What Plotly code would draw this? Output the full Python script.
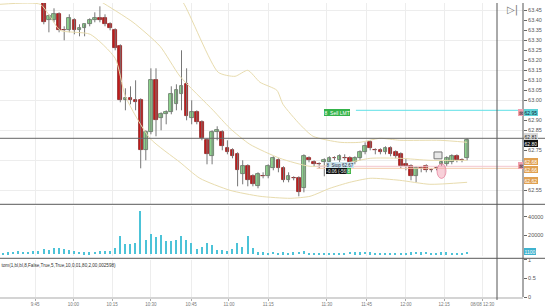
import plotly.graph_objects as go

# ---------------- data ----------------
idx = list(range(92))
opens = [63.60, 63.58, 63.60, 63.57, 63.59, 63.58, 63.60, 63.59, 63.58, 63.40,
         63.40, 63.43, 63.35, 63.35, 63.40, 63.35, 63.36, 63.38, 63.40, 63.41,
         63.41, 63.38, 63.35, 63.27, 63.00, 63.01, 63.00, 63.00, 62.75, 62.84,
         63.10, 62.91, 62.93, 62.94, 62.98, 63.03, 63.08, 62.91, 62.94, 62.89,
         62.80, 62.72, 62.84, 62.84, 62.76, 62.75, 62.73, 62.63, 62.67, 62.62,
         62.57, 62.62, 62.62, 62.66, 62.70, 62.66, 62.60, 62.61, 62.61, 62.56,
         62.71, 62.69, 62.68, 62.69, 62.69, 62.71, 62.70, 62.71, 62.71, 62.69,
         62.71, 62.74, 62.79, 62.75, 62.75, 62.74, 62.76, 62.74, 62.73, 62.68,
         62.67, 62.62, 62.66, 62.67, 62.65, 62.66, 62.68, 62.68, 62.69, 62.72,
         62.70, 62.71]
highs = [63.63, 63.61, 63.62, 63.60, 63.62, 63.61, 63.63, 63.62, 63.60, 63.43,
         63.46, 63.44, 63.37, 63.43, 63.41, 63.38, 63.38, 63.41, 63.44, 63.47,
         63.43, 63.39, 63.36, 63.28, 63.06, 63.07, 63.10, 63.01, 62.85, 63.16,
         63.16, 62.94, 62.95, 63.07, 63.08, 63.25, 63.16, 63.00, 62.95, 62.90,
         62.81, 62.85, 62.87, 62.85, 62.80, 62.76, 62.74, 62.70, 62.68, 62.63,
         62.64, 62.64, 62.68, 62.72, 62.71, 62.67, 62.64, 62.62, 62.62, 62.73,
         62.72, 62.70, 62.69, 62.71, 62.72, 62.72, 62.73, 62.73, 62.72, 62.72,
         62.75, 62.79, 62.80, 62.76, 62.76, 62.77, 62.77, 62.75, 62.74, 62.71,
         62.68, 62.67, 62.67, 62.68, 62.66, 62.67, 62.70, 62.72, 62.73, 62.73,
         62.71, 62.81]
lows = [63.57, 63.55, 63.56, 63.54, 63.56, 63.55, 63.57, 63.56, 63.38, 63.34,
        63.39, 63.34, 63.30, 63.34, 63.33, 63.32, 63.32, 63.37, 63.39, 63.39,
        63.37, 63.35, 63.25, 62.99, 62.95, 62.98, 62.95, 62.66, 62.70, 62.83,
        62.82, 62.85, 62.88, 62.93, 62.95, 62.95, 62.90, 62.88, 62.88, 62.80,
        62.68, 62.68, 62.80, 62.75, 62.73, 62.71, 62.57, 62.58, 62.57, 62.57,
        62.56, 62.61, 62.61, 62.65, 62.64, 62.59, 62.59, 62.60, 62.52, 62.54,
        62.69, 62.67, 62.66, 62.62, 62.68, 62.70, 62.69, 62.70, 62.68, 62.68,
        62.70, 62.73, 62.75, 62.73, 62.73, 62.73, 62.72, 62.71, 62.66, 62.65,
        62.60, 62.59, 62.64, 62.64, 62.64, 62.65, 62.67, 62.67, 62.68, 62.69,
        62.69, 62.70]
closes = [63.58, 63.60, 63.57, 63.59, 63.58, 63.60, 63.59, 63.58, 63.39, 63.42,
          63.43, 63.35, 63.35, 63.41, 63.35, 63.36, 63.38, 63.40, 63.41, 63.40,
          63.38, 63.36, 63.26, 63.00, 63.01, 63.00, 62.99, 62.75, 62.84, 63.10,
          62.90, 62.93, 62.94, 63.03, 63.05, 63.07, 62.92, 62.94, 62.89, 62.81,
          62.73, 62.84, 62.85, 62.77, 62.74, 62.72, 62.65, 62.67, 62.60, 62.58,
          62.63, 62.62, 62.67, 62.71, 62.66, 62.60, 62.62, 62.61, 62.54, 62.72,
          62.70, 62.68, 62.68, 62.70, 62.71, 62.71, 62.72, 62.71, 62.69, 62.71,
          62.74, 62.77, 62.76, 62.75, 62.74, 62.76, 62.73, 62.72, 62.67, 62.67,
          62.62, 62.66, 62.66, 62.65, 62.65, 62.66, 62.69, 62.71, 62.72, 62.70,
          62.70, 62.80]
volumes = [1500, 2000, 2200, 3000, 2500, 2500, 3500, 3000, 5000, 4000,
           6000, 6000, 5000, 4500, 3500, 2500, 2000, 2000, 2500, 3000,
           3000, 3500, 6300, 19600, 10500, 10500, 11500, 46000, 15000, 22000,
           18500, 20000, 14000, 14000, 15000, 19000, 15000, 11500, 5300, 8000,
           11500, 9800, 4500, 4500, 3500, 5300, 11500, 8000, 19600, 6300,
           2100, 1800, 1500, 2500, 1200, 2000, 1000, 1800, 2500, 3000,
           1500, 1200, 1000, 800, 1500, 1000, 1200, 1000, 2200, 1800,
           2000, 2400, 2000, 1500, 1000, 800, 1200, 1000, 1500, 1200,
           2000, 2200, 1800, 2500, 1200, 1500, 2000, 1800, 1500, 1200,
           1000, 2500]

# Bollinger-style envelope (bar index, price)
upper_x = [33, 35.3, 42.2, 45.5, 48, 50.4, 53.7, 54.9, 58.2, 60.8, 66.1, 70, 73.9, 77.8, 85.7, 91]
upper_y = [63.55, 63.49, 63.14, 63.12, 63.15, 63.09, 63.05, 62.98, 62.88, 62.82, 62.79, 62.79, 62.81, 62.80, 62.80, 62.79]
mid_x = [18, 19.4, 25.5, 30.8, 34.7, 41.2, 44.5, 48.4, 54.3, 60.2, 66.1, 72, 77.8, 83.7, 91]
mid_y = [63.51, 63.49, 63.39, 63.27, 63.12, 62.95, 62.86, 62.78, 62.71, 62.67, 62.68, 62.71, 62.71, 62.70, 62.70]
lower_x = [-0.6, 7.3, 9.2, 11.2, 17.1, 22, 24, 28.8, 34.7, 38.6, 44.5, 50.4, 56.3, 60.2, 64.1, 68, 72, 77.8, 83.7, 91]
lower_y = [63.48, 63.48, 63.42, 63.35, 63.33, 63.21, 63.02, 62.81, 62.69, 62.61, 62.55, 62.52, 62.51, 62.52, 62.56, 62.59, 62.61, 62.60, 62.58, 62.59]

price_ticks = [63.45, 63.40, 63.35, 63.30, 63.25, 63.20, 63.15, 63.10, 63.05, 63.00,
               62.90, 62.85, 62.75, 62.55]
time_tickvals = [6.3, 13.8, 21.4, 29.0, 36.9, 44.3, 52.0, 63.5, 71.3, 79.0, 86.5, 94.0]
time_ticktext = ["9:45", "10:00", "10:15", "10:30", "10:45", "11:00", "11:15",
                 "11:30", "11:45", "12:00", "12:15", "08/08 12:30"]

limit_price = 62.95
cross_price = 62.81
stop_price_a = 62.67
stop_price_b = 62.66

# ---------------- figure ----------------
W, H = 545, 307
ML, MR, MT, MB = 0, 22, 0, 7
PW = W - ML - MR
PH = H - MT - MB
X0 = -3 / 5.1
X1 = (PW - 3) / 5.1


def px_x(p):
    return p / PW


def px_y(p):
    return (PH - p) / PH


FONT = "Liberation Sans, Arial, sans-serif"
TAN = "#e8dcae"
UP_FILL, UP_EDGE = "#8fdc8f", "#5f6f5f"
DN_FILL, DN_EDGE = "#c41a1a", "#8c2020"

fig = go.Figure()

# wicks
wx, wy = [], []
for i, h, l in zip(idx, highs, lows):
    wx += [i, i, None]
    wy += [l, h, None]
fig.add_trace(go.Scatter(x=wx, y=wy, mode="lines", line=dict(color="#777777", width=1),
                         xaxis="x", yaxis="y", showlegend=False, hoverinfo="skip"))

# bodies
body_base = [min(o, c) for o, c in zip(opens, closes)]
body_len = [max(abs(c - o), 0.004) for o, c in zip(opens, closes)]
body_fill = [UP_FILL if c > o else DN_FILL for o, c in zip(opens, closes)]
body_edge = [UP_EDGE if c > o else DN_EDGE for o, c in zip(opens, closes)]
fig.add_trace(go.Bar(x=idx, y=body_len, base=body_base, width=0.72, xaxis="x", yaxis="y",
                     marker=dict(color=body_fill, line=dict(color=body_edge, width=0.8)),
                     showlegend=False, hoverinfo="skip"))

for bx, by in [(upper_x, upper_y), (mid_x, mid_y), (lower_x, lower_y)]:
    fig.add_trace(go.Scatter(x=bx, y=by, mode="lines",
                             line=dict(color=TAN, width=1, shape="spline", smoothing=0.6),
                             xaxis="x", yaxis="y", showlegend=False, hoverinfo="skip"))

# order / level lines
fig.add_trace(go.Scatter(x=[69.2, X1], y=[limit_price, limit_price], mode="lines",
                         line=dict(color="#5fe0e6", width=1), xaxis="x", yaxis="y",
                         showlegend=False, hoverinfo="skip"))
fig.add_trace(go.Scatter(x=[61.5, X1], y=[stop_price_a, stop_price_a], mode="lines",
                         line=dict(color="#f3c6cf", width=1), xaxis="x", yaxis="y",
                         showlegend=False, hoverinfo="skip"))
fig.add_trace(go.Scatter(x=[61.5, X1], y=[stop_price_b, stop_price_b], mode="lines",
                         line=dict(color="#f2c9a8", width=1), xaxis="x", yaxis="y",
                         showlegend=False, hoverinfo="skip"))

# grid helper axis
fig.add_trace(go.Scatter(x=[X0], y=[63.0], mode="markers", marker=dict(opacity=0),
                         xaxis="x", yaxis="y4", showlegend=False, hoverinfo="skip"))

fig.add_trace(go.Bar(x=idx, y=volumes, xaxis="x", yaxis="y2",
                     marker=dict(color="#4cc3d8", line=dict(width=0)),
                     width=0.3, showlegend=False, hoverinfo="skip"))

fig.add_trace(go.Scatter(x=[X0], y=[0.5], mode="markers", marker=dict(opacity=0),
                         xaxis="x", yaxis="y3", showlegend=False, hoverinfo="skip"))

price_range = [63.4865 - 205 * 0.0049, 63.4865]
price_dom = [px_y(205), 1.0]
vol_dom = [px_y(258), px_y(207)]
ind_dom = [0.0, px_y(262)]

axis_common = dict(side="right", ticks="outside", ticklen=3, tickcolor="#666",
                   tickfont=dict(size=5.5, color="#555", family=FONT),
                   showline=False, zeroline=False, anchor="x")

fig.update_layout(
    width=W, height=H,
    margin=dict(l=ML, r=MR, t=MT, b=MB),
    paper_bgcolor="white", plot_bgcolor="white",
    barmode="overlay", bargap=0, showlegend=False,
    xaxis=dict(domain=[0, 1], range=[X0, X1], anchor="y3",
               tickvals=time_tickvals, ticktext=time_ticktext, tickangle=0,
               tickfont=dict(size=4.5, color="#777", family=FONT),
               ticks="outside", ticklen=2, tickcolor="#aaa",
               showgrid=True, gridcolor="#ededed", gridwidth=1,
               showline=True, linecolor="#d4d4d4", linewidth=2, zeroline=False),
    yaxis=dict(domain=price_dom, range=price_range, tickvals=price_ticks,
               ticktext=["%.2f" % v for v in price_ticks], showgrid=False, **axis_common),
    yaxis4=dict(overlaying="y", range=price_range, side="right", tickmode="linear",
                tick0=63.45, dtick=0.15, showgrid=True, gridcolor="#ededed",
                showticklabels=False, ticks="", zeroline=False, anchor="x"),
    yaxis2=dict(domain=vol_dom, range=[-2100, 51600], tickvals=[20000, 40000],
                ticktext=["20000", "40000"], showgrid=False, **axis_common),
    yaxis3=dict(domain=ind_dom, range=[0, 1], tickvals=[0, 0.5, 1], ticktext=["0", "0.5", "1"],
                showgrid=False, **axis_common),
)

shapes = []
# panel separators
for yy in (205.5, 260.5):
    shapes.append(dict(type="line", xref="paper", yref="paper", x0=0, x1=W / PW, y0=px_y(yy), y1=px_y(yy),
                       line=dict(color="#7a7a7a", width=1.2)))
# price axis spine
shapes.append(dict(type="line", xref="paper", yref="paper", x0=1, x1=1, y0=px_y(300), y1=1,
                   line=dict(color="#555", width=1)))
# crosshair
shapes.append(dict(type="line", xref="paper", yref="paper", x0=px_x(497), x1=px_x(497), y0=px_y(303), y1=1,
                   line=dict(color="#555", width=1)))
shapes.append(dict(type="line", xref="paper", yref="y", x0=0, x1=W / PW, y0=cross_price, y1=cross_price,
                   line=dict(color="#666", width=1)))
# pink highlight ellipse & small box
shapes.append(dict(type="circle", xref="paper", yref="paper", x0=px_x(437), x1=px_x(446), y0=px_y(179), y1=px_y(164),
                   fillcolor="rgba(240,150,170,0.45)", line=dict(color="rgba(230,120,150,0.7)", width=1)))
shapes.append(dict(type="rect", xref="paper", yref="paper", x0=px_x(434), x1=px_x(442), y0=px_y(159), y1=px_y(152),
                   fillcolor="#e8e8e8", line=dict(color="#777", width=1)))
fig.update_layout(shapes=shapes)

ann = []


def label(xp, yp, text, bg, fg="#222", size=5, xanchor="left"):
    ann.append(dict(xref="paper", yref="paper", x=px_x(xp), y=px_y(yp), text=text, showarrow=False,
                    xanchor=xanchor, yanchor="middle", bgcolor=bg, borderwidth=0,
                    borderpad=0.5, font=dict(size=size, color=fg, family=FONT)))


label(324, 111.5, "8  Sell LMT", "#34b34a", "white", 5)
label(326, 165.5, "8  Stop 62.67", "#cfe6ee", "#224", 4.5)
label(326, 171.0, "-0.06 (-56)", "#111", "#eee", 4.5)
label(347, 171.0, "8", "#34b34a", "white", 4.5)
label(522.5, 111.5, "⊠", "#f0a0b0", "#333", 5, xanchor="right")
label(522.5, 165.5, "⊠", "#f0a0b0", "#333", 5, xanchor="right")
label(524, 111.5, "62.95", "#5fd3d8", "#123", 5)
label(524, 136.0, "62.81", "#d9d9d9", "#222", 5)
label(524, 143.0, "62.80", "#111", "#fff", 5)
label(524, 162.0, "62.68", "#e0a050", "#fff", 5)
label(524, 169.5, "62.66", "#e0a050", "#fff", 5)
label(524, 181.5, "62.62", "#e0a050", "#fff", 5)
label(524, 253.5, "1100", "#3fb3cf", "#fff", 5)
label(1, 267.5, "tom(1,bl,bl,8,False,True,5,True,10,0,01,80,2,00,002598)", "rgba(0,0,0,0)", "#333", 4.6)
ann.append(dict(xref="paper", yref="paper", x=px_x(512), y=px_y(7), text="▷|", showarrow=False,
                font=dict(size=10, color="#777", family="DejaVu Sans"), xanchor="center", yanchor="middle"))
fig.update_layout(annotations=ann)

fig.write_html("out.html")
